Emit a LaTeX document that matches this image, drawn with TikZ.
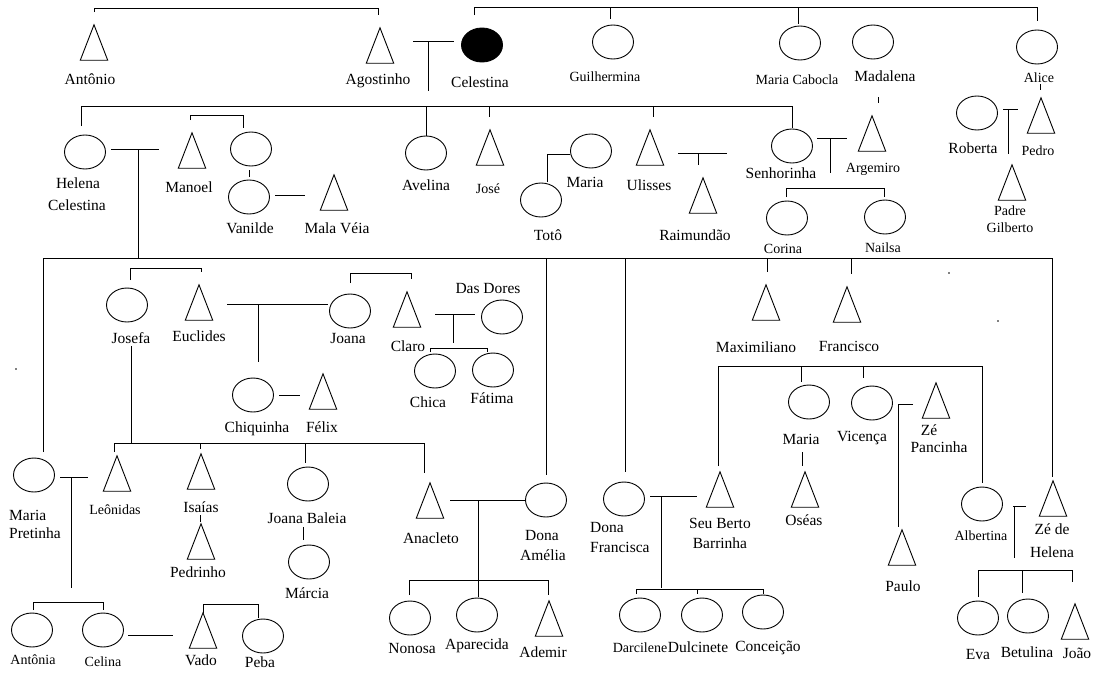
\documentclass[tikz,border=0pt]{standalone}
\usepackage{fontspec}
\setmainfont{Liberation Serif}
\usetikzlibrary{shapes.geometric}
\newcommand\lblfont{\fontsize{15.5}{17}\selectfont}
\newcommand\smlfont{\fontsize{14}{15}\selectfont}
\newcommand\mtri[3]{\node[trinode] (#1) at (#2,#3+17.5) {};\draw[ln] (#1.south west) -- (#1.north) -- (#1.south east) -- cycle;}
\newcommand\mell[3]{\node[fem] (#1) at (#2,#3) {};}
\begin{document}
\begin{tikzpicture}[x=1pt,y=-1pt,
  ln/.style={line width=0.9pt, line join=miter},
  fem/.style={ellipse, draw, line width=0.9pt, minimum width=41pt, minimum height=34pt, inner sep=0pt},
  trinode/.style={inner sep=0pt, minimum width=27pt, minimum height=35pt},
  lbl/.style={font=\lblfont, inner sep=0pt, anchor=base},
  lbs/.style={font=\smlfont, inner sep=0pt, anchor=base},
  lbw/.style={font=\lblfont, inner sep=0pt, anchor=base west}]
\useasboundingbox (0,0) rectangle (1101,673);
\fill[white] (0,0) rectangle (1101,673);

% ---------- ellipses ----------
\node[fem, fill=black] (celestina) at (482,45) {};
\mell{guilhermina}{613}{42}
\mell{mcabocla}{800}{43}
\mell{madalena}{873}{42}
\mell{alice}{1037}{47}
\mell{helena}{85}{152}
\mell{eone}{251}{149}
\mell{vanilde}{249}{197}
\mell{avelina}{426}{153}
\mell{mariaa}{591}{151}
\mell{toto}{541}{200}
\mell{senhorinha}{792}{146}
\mell{roberta}{977}{113}
\mell{corina}{787}{218}
\mell{nailsa}{885}{217}
\mell{josefa}{127}{305}
\mell{joana}{350}{311}
\mell{dasdores}{502}{317}
\mell{chica}{435}{371}
\mell{fatima}{493}{370}
\mell{chiquinha}{253}{395}
\mell{mariab}{809}{402}
\mell{vicenca}{872}{403}
\mell{albertina}{982}{504}
\mell{eva}{978}{618}
\mell{betulina}{1028}{616}
\mell{mpretinha}{34}{475}
\mell{joanab}{308}{484}
\mell{marcia}{309}{562}
\mell{antonia}{32}{630}
\mell{celina}{103}{630}
\mell{peba}{263}{636}
\mell{damelia}{546}{500}
\mell{nonosa}{410}{618}
\mell{aparecida}{477}{615}
\mell{dfrancisca}{624}{499}
\mell{darcilene}{640}{615}
\mell{dulcinete}{702}{615}
\mell{conceicao}{763}{612}

% ---------- triangles ----------
\mtri{antonio}{94}{25}
\mtri{agostinho}{380}{28}
\mtri{manoel}{192}{133}
\mtri{malaveia}{334}{175}
\mtri{jose}{490}{130}
\mtri{ulisses}{650}{130}
\mtri{raimundao}{703}{178}
\mtri{argemiro}{872}{116}
\mtri{pedro}{1041}{98}
\mtri{padre}{1012}{165}
\mtri{euclides}{199}{285}
\mtri{claro}{407}{292}
\mtri{felix}{323}{374}
\mtri{maximiliano}{766}{285}
\mtri{francisco}{847}{287}
\mtri{zepancinha}{936}{383}
\mtri{paulo}{902}{530}
\mtri{oseas}{805}{472}
\mtri{zedehelena}{1053}{481}
\mtri{joao}{1075}{604}
\mtri{leonidas}{117}{456}
\mtri{isaias}{201}{454}
\mtri{pedrinho}{201}{524}
\mtri{vado}{203}{613}
\mtri{anacleto}{430}{483}
\mtri{ademir}{549}{601}
\mtri{seuberto}{720}{472}

% ---------- labels ----------
\node[lbl] (l1) at (90,84) {Antônio};
\node[lbl] (l2) at (378,84) {Agostinho};
\node[lbl] (l3) at (480,87) {Celestina};
\node[lbs] (l4) at (605,81) {Guilhermina};
\node[lbs] (l5) at (797,84) {Maria Cabocla};
\node[lbl] (l6) at (885,81) {Madalena};
\node[lbs] (l7) at (1039,82) {Alice};
\node[lbl] (l8) at (78,188) {Helena};
\node[lbl] (l9) at (77,210) {Celestina};
\node[lbl] (l10) at (189,192) {Manoel};
\node[lbl] (l11) at (250,233) {Vanilde};
\node[lbl] (l12) at (337,233) {Mala Véia};
\node[lbl] (l13) at (426,190) {Avelina};
\node[lbs] (l14) at (488,193) {José};
\node[lbl] (l15) at (585,187) {Maria};
\node[lbl] (l16) at (548,240) {Totô};
\node[lbl] (l17) at (649,190) {Ulisses};
\node[lbl] (l18) at (695,240) {Raimundão};
\node[lbl] (l19) at (781,178) {Senhorinha};
\node[lbs] (l20) at (873,172) {Argemiro};
\node[lbl] (l21) at (973,153) {Roberta};
\node[lbs] (l22) at (1038,155) {Pedro};
\node[lbs] (l23) at (1010,215) {Padre};
\node[lbs] (l24) at (1010,232) {Gilberto};
\node[lbs] (l25) at (783,253) {Corina};
\node[lbs] (l26) at (883,252) {Nailsa};
\node[lbl] (l27) at (131,343) {Josefa};
\node[lbl] (l28) at (199,341) {Euclides};
\node[lbl] (l29) at (348,343) {Joana};
\node[lbl] (l30) at (408,351) {Claro};
\node[lbl] (l31) at (488,293) {Das Dores};
\node[lbl] (l32) at (428,407) {Chica};
\node[lbl] (l33) at (492,403) {Fátima};
\node[lbl] (l34) at (257,432) {Chiquinha};
\node[lbl] (l35) at (322,432) {Félix};
\node[lbl] (l36) at (756,352) {Maximiliano};
\node[lbl] (l37) at (849,351) {Francisco};
\node[lbl] (l38) at (801,444) {Maria};
\node[lbl] (l39) at (862,441) {Vicença};
\node[lbl] (l40) at (929,435) {Zé};
\node[lbl] (l41) at (939,452) {Pancinha};
\node[lbl] (l42) at (903,591) {Paulo};
\node[lbl] (l43) at (804,525) {Oséas};
\node[lbs] (l44) at (981,540) {Albertina};
\node[lbl] (l45) at (1052,534) {Zé de};
\node[lbl] (l46) at (1052,557) {Helena};
\node[lbl] (l47) at (978,659) {Eva};
\node[lbl] (l48) at (1027,657) {Betulina};
\node[lbl] (l49) at (1077,658) {João};
\node[lbw] (l50) at (9,520) {Maria};
\node[lbw] (l51) at (9,538) {Pretinha};
\node[lbs] (l52) at (115,514) {Leônidas};
\node[lbl] (l53) at (201,512) {Isaías};
\node[lbl] (l54) at (198,577) {Pedrinho};
\node[lbl] (l55) at (307,523) {Joana Baleia};
\node[lbl] (l56) at (307,598) {Márcia};
\node[lbs] (l57) at (33,664) {Antônia};
\node[lbs] (l58) at (103,666) {Celina};
\node[lbl] (l59) at (201,665) {Vado};
\node[lbl] (l60) at (260,667) {Peba};
\node[lbl] (l61) at (431,543) {Anacleto};
\node[lbl] (l62) at (542,540) {Dona};
\node[lbl] (l63) at (543,560) {Amélia};
\node[lbl] (l64) at (412,653) {Nonosa};
\node[lbl] (l65) at (477,649) {Aparecida};
\node[lbl] (l66) at (543,657) {Ademir};
\node[lbw] (l67) at (590,532) {Dona};
\node[lbw] (l68) at (590,552) {Francisca};
\node[lbl] (l69) at (720,528) {Seu Berto};
\node[lbl] (l70) at (720,548) {Barrinha};
\node[lbs] (l71) at (640,652) {Darcilene};
\node[lbl] (l72) at (698,652) {Dulcinete};
\node[lbl] (l73) at (768,651) {Conceição};

% ---------- connectors ----------
% top generation
\draw[ln] (94,12) -- (94,8) -- (378,8) -- (378,15);
\draw[ln] (474,15) -- (474,7) -- (1037,7) -- (1037,21);
\draw[ln] (610,7) -- (610,19);
\draw[ln] (798,7) -- (798,24);
\draw[ln] (413,41) -- (454,41);
\draw[ln] (428,41) -- (428,91);
% children of Agostinho & Celestina
\draw[ln] (81,126) -- (81,106) -- (792,106) -- (792,128);
\draw[ln] (avelina.north) -- (avelina.north |- 0,106);
\draw[ln] (489,106) -- (489,117);
\draw[ln] (653,106) -- (653,117);
\draw[ln] (878,97) -- (878,103);
\draw[ln] (1040,84) -- (1040,90);
% second generation
\draw[ln] (111,149) -- (159,149);
\draw[ln] (138,149) -- (138,258);
\draw[ln] (190,120) -- (190,115) -- (243,115) -- (243,128);
\draw[ln] (249,170) -- (249,177);
\draw[ln] (275,195) -- (305,195);
\draw[ln] (570,154) -- (547,154) -- (547,182);
\draw[ln] (678,153) -- (727,153);
\draw[ln] (698,153) -- (698,165);
\draw[ln] (817,138) -- (847,138);
\draw[ln] (830,138) -- (830,173);
\draw[ln] (786,197) -- (786,188) -- (884,188) -- (884,197);
\draw[ln] (1003,109) -- (1018,109);
\draw[ln] (1008,109) -- (1008,154);
% big line
\draw[ln] (43,452) -- (43,258) -- (1052,258) -- (1052,477);
\draw[ln] (546,258) -- (546,475);
\draw[ln] (625,258) -- (625,472);
\draw[ln] (767,258) -- (767,272);
\draw[ln] (851,258) -- (851,274);
% Josefa group
\draw[ln] (130,280) -- (130,268) -- (201,268) -- (201,272);
\draw[ln] (227,304) -- (328,304);
\draw[ln] (258,304) -- (258,362);
\draw[ln] (350,283) -- (350,273) -- (411,273) -- (411,279);
\draw[ln] (435,314) -- (475,314);
\draw[ln] (453,314) -- (453,343);
\draw[ln] (430,352) -- (430,348) -- (487,348) -- (487,352);
\draw[ln] (279,395) -- (300,395);
\draw[ln] (131,346) -- (131,443);
\draw[ln] (114,452) -- (114,443) -- (424,443) -- (424,473);
\draw[ln] (200,443) -- (200,449);
\draw[ln] (305,443) -- (305,463);
% Francisco's children
\draw[ln] (718,466) -- (718,366) -- (982,366) -- (982,483);
\draw[ln] (801,366) -- (801,382);
\draw[ln] (863,366) -- (863,378);
\draw[ln] (913,404) -- (898,404) -- (898,527);
\draw[ln] (802,452) -- (802,466);
\draw[ln] (1013,506) -- (1026,506);
\draw[ln] (1014,506) -- (1014,558);
\draw[ln] (978,597) -- (978,570) -- (1072,570) -- (1072,582);
\draw[ln] (1022,570) -- (1022,593);
% lower left
\draw[ln] (60,477) -- (88,477);
\draw[ln] (71,477) -- (71,588);
\draw[ln] (200,515) -- (200,522);
\draw[ln] (303,527) -- (303,540);
\draw[ln] (33,610) -- (33,602) -- (103,602) -- (103,610);
\draw[ln] (128,635) -- (173,635);
\draw[ln] (vado.north) -- (203,604) -- (258,604) -- (258,618);
% middle bottom
\draw[ln] (450,500) -- (525,500);
\draw[ln] (478,500) -- (478,597);
\draw[ln] (409,595) -- (409,580) -- (548,580) -- (548,595);
\draw[ln] (650,496) -- (697,496);
\draw[ln] (661,496) -- (661,588);
\draw[ln] (636,594) -- (636,589) -- (763,589) -- (763,594);
\draw[ln] (697,589) -- (697,594);
% stray dots
\fill (16,369) circle (0.8);
\fill (949,273) circle (0.8);
\fill (998,321) circle (0.8);
\end{tikzpicture}
\end{document}
